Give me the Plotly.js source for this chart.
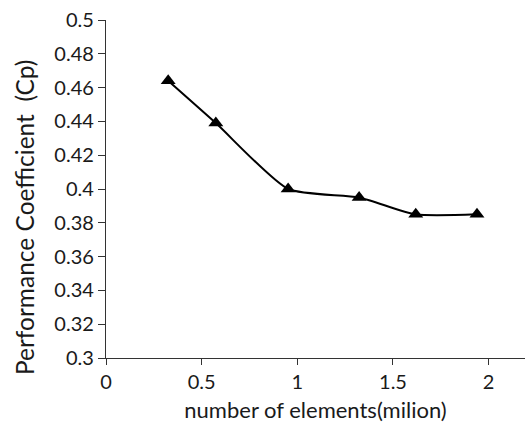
<!DOCTYPE html>
<html><head><meta charset="utf-8">
<script src="https://cdn.plot.ly/plotly-3.0.1.min.js"></script>
<style>html,body{margin:0;padding:0;background:#fff}</style>
</head><body><div id="chart" style="width:525px;height:430px"></div>
<script>
const elements = [0.325, 0.574, 0.952, 1.323, 1.619, 1.939];
const cp = [0.464, 0.439, 0.400, 0.395, 0.385, 0.385];
const xTicks = [0, 0.5, 1, 1.5, 2];
const yTicks = [0.3, 0.32, 0.34, 0.36, 0.38, 0.4, 0.42, 0.44, 0.46, 0.48, 0.5];
const yTitle = 'Performance Coefficient  (Cp)';

Plotly.newPlot('chart', [{
  x: elements, y: cp, type: 'scatter', mode: 'lines+markers',
  line: {color: '#000', width: 2, shape: 'spline', smoothing: 0.6},
  marker: {symbol: 'triangle-up', size: 13, color: '#000'},
  showlegend: false
}], {
  width: 525, height: 430,
  margin: {l: 106, r: 0, t: 20, b: 72},
  paper_bgcolor: '#fff', plot_bgcolor: '#fff',
  font: {family: 'Lato, Liberation Sans, sans-serif', color: '#1a1a1a', size: 20},
  xaxis: {
    range: [0, 2.19], tickvals: xTicks, ticktext: xTicks.map(String),
    tickfont: {family: 'Lato, sans-serif', size: 20, color: '#1a1a1a'},
    showgrid: false, zeroline: false, showline: true, linecolor: '#333', linewidth: 1.2,
    ticks: 'outside', ticklen: 6, tickcolor: '#333',
    title: {text: 'number of elements(milion)', font: {size: 22}, standoff: 10}
  },
  yaxis: {
    range: [0.3, 0.5], tickvals: yTicks, ticktext: yTicks.map(v => String(v)),
    tickfont: {family: 'Lato, sans-serif', size: 20, color: '#1a1a1a'},
    showgrid: false, zeroline: false, showline: true, linecolor: '#333', linewidth: 1.2,
    ticks: 'outside', ticklen: 7, tickcolor: '#333'
  },
  annotations: [{
    text: yTitle, textangle: -90, xref: 'paper', yref: 'paper',
    x: 0, y: 0.414, xshift: -82, xanchor: 'center', yanchor: 'middle',
    showarrow: false, font: {size: 24.5, color: '#1a1a1a'}
  }]
}, {displayModeBar: false});
</script></body></html>
